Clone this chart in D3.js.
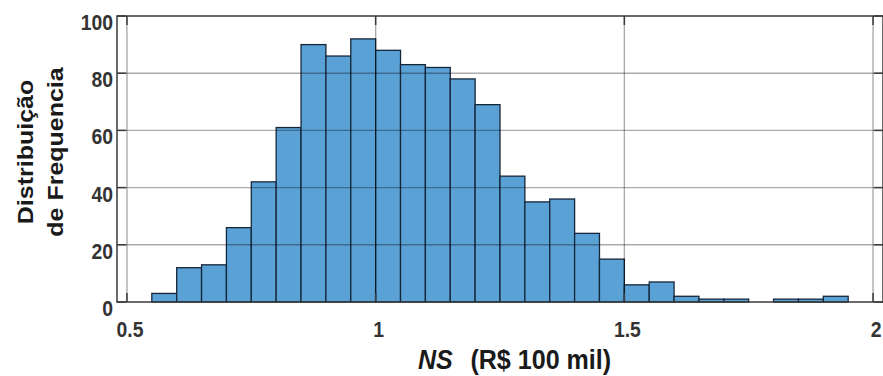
<!DOCTYPE html>
<html>
<head>
<meta charset="utf-8">
<script src="https://cdn.jsdelivr.net/npm/d3@7"></script>
<style>
    html, body { margin: 0; padding: 0; background: #fff; }
    svg { display: block; font-family: "Liberation Sans", Arial, sans-serif; }
</style>
</head>
<body>
<div id="chart"></div>
<script>
// histogram bins (R$ 100 mil) and counts per bin
const binEdges = [0.55, 0.60, 0.65, 0.70, 0.75, 0.80, 0.85, 0.90, 0.95, 1.00,
    1.05, 1.10, 1.15, 1.20, 1.25, 1.30, 1.35, 1.40, 1.45, 1.50,
    1.55, 1.60, 1.65, 1.70, 1.75, 1.80, 1.85, 1.90, 1.95];
const counts = [3, 12, 13, 26, 42, 61, 90, 86, 92, 88,
    83, 82, 78, 69, 44, 35, 36, 24, 15, 6,
    7, 2, 1, 1, 0, 1, 1, 2];
const xTicks = [0.5, 1, 1.5, 2];
const xTickLabels = ['0.5', '1', '1.5', '2'];
const yTicks = [0, 20, 40, 60, 80, 100];
const yLabelLines = ['Distribuição', 'de Frequencia'];

const width = 883, height = 376;
const squeeze = 0.88; // text in the original looks horizontally compressed

const svg = d3.select('#chart').append('svg')
    .attr('width', width)
    .attr('height', height);

const x = d3.scaleLinear().domain([0.48, 2.02]).range([117, 883]);
const y = d3.scaleLinear().domain([0, 100]).range([302, 16]);

const bins = counts.map((c, i) => ({ x0: binEdges[i], x1: binEdges[i + 1], n: c }));

/* bars */
svg.append('g').attr('class', 'bars')
    .selectAll('rect')
    .data(bins.filter(d => d.n > 0))
    .join('rect')
    .attr('x', d => x(d.x0))
    .attr('y', d => y(d.n))
    .attr('width', d => x(d.x1) - x(d.x0))
    .attr('height', d => y(0) - y(d.n))
    .attr('fill', '#5aa2d6')
    .attr('stroke', '#16263a')
    .attr('stroke-width', 1.3);

/* grid drawn on top, semi-transparent */
const grid = svg.append('g').attr('class', 'grid')
    .attr('stroke', '#000')
    .attr('stroke-opacity', 0.33)
    .attr('stroke-width', 1.4);
grid.selectAll('.gx')
    .data(xTicks)
    .join('line')
    .attr('x1', d => x(d)).attr('x2', d => x(d))
    .attr('y1', y(100)).attr('y2', y(0));
grid.selectAll('.gy')
    .data(yTicks.filter(d => d > 0 && d < 100))
    .join('line')
    .attr('x1', x.range()[0]).attr('x2', x.range()[1])
    .attr('y1', d => y(d)).attr('y2', d => y(d));

/* box and inward ticks */
const box = svg.append('g').attr('class', 'box')
    .attr('stroke', '#3a3a3a')
    .attr('stroke-width', 1.5)
    .attr('fill', 'none');
box.append('rect')
    .attr('x', x.range()[0]).attr('y', y(100))
    .attr('width', x.range()[1] - x.range()[0])
    .attr('height', y(0) - y(100));
const tickLen = 9;
xTicks.forEach(t => {
    box.append('line').attr('x1', x(t)).attr('x2', x(t)).attr('y1', y(100)).attr('y2', y(100) + tickLen);
    box.append('line').attr('x1', x(t)).attr('x2', x(t)).attr('y1', y(0)).attr('y2', y(0) - tickLen);
});
yTicks.forEach(t => {
    box.append('line').attr('x1', x.range()[0]).attr('x2', x.range()[0] + tickLen).attr('y1', y(t)).attr('y2', y(t));
    box.append('line').attr('x1', x.range()[1]).attr('x2', x.range()[1] - tickLen).attr('y1', y(t)).attr('y2', y(t));
});

/* tick labels */
svg.append('g').selectAll('text')
    .data(xTicks)
    .join('text')
    .attr('transform', d => `translate(${x(d) + 3},337) scale(${squeeze},1)`)
    .attr('text-anchor', 'middle')
    .attr('font-size', 22)
    .attr('font-weight', 'bold')
    .attr('fill', '#333')
    .text((d, i) => xTickLabels[i]);

svg.append('g').selectAll('text')
    .data(yTicks)
    .join('text')
    .attr('transform', d => `translate(113,${y(d) + 14}) scale(${squeeze},1)`)
    .attr('text-anchor', 'end')
    .attr('font-size', 22)
    .attr('font-weight', 'bold')
    .attr('fill', '#333')
    .text(d => d);

/* axis labels */
const xl = svg.append('text')
    .attr('transform', `translate(418,369) scale(${squeeze},1)`)
    .attr('font-size', 28.5)
    .attr('font-weight', 'bold')
    .attr('fill', '#1a1a1a');
xl.append('tspan').attr('font-style', 'italic').text('NS');
xl.append('tspan').attr('dx', 20).text('(R$ 100 mil)');

svg.append('g')
    .selectAll('text')
    .data(yLabelLines)
    .join('text')
    .attr('transform', (d, i) => `translate(${33 + i * 30},152) scale(${squeeze},1) rotate(-90)`)
    .attr('text-anchor', 'middle')
    .attr('font-size', 25)
    .attr('font-weight', 'bold')
    .attr('fill', '#1a1a1a')
    .text(d => d);
</script>
</body>
</html>
